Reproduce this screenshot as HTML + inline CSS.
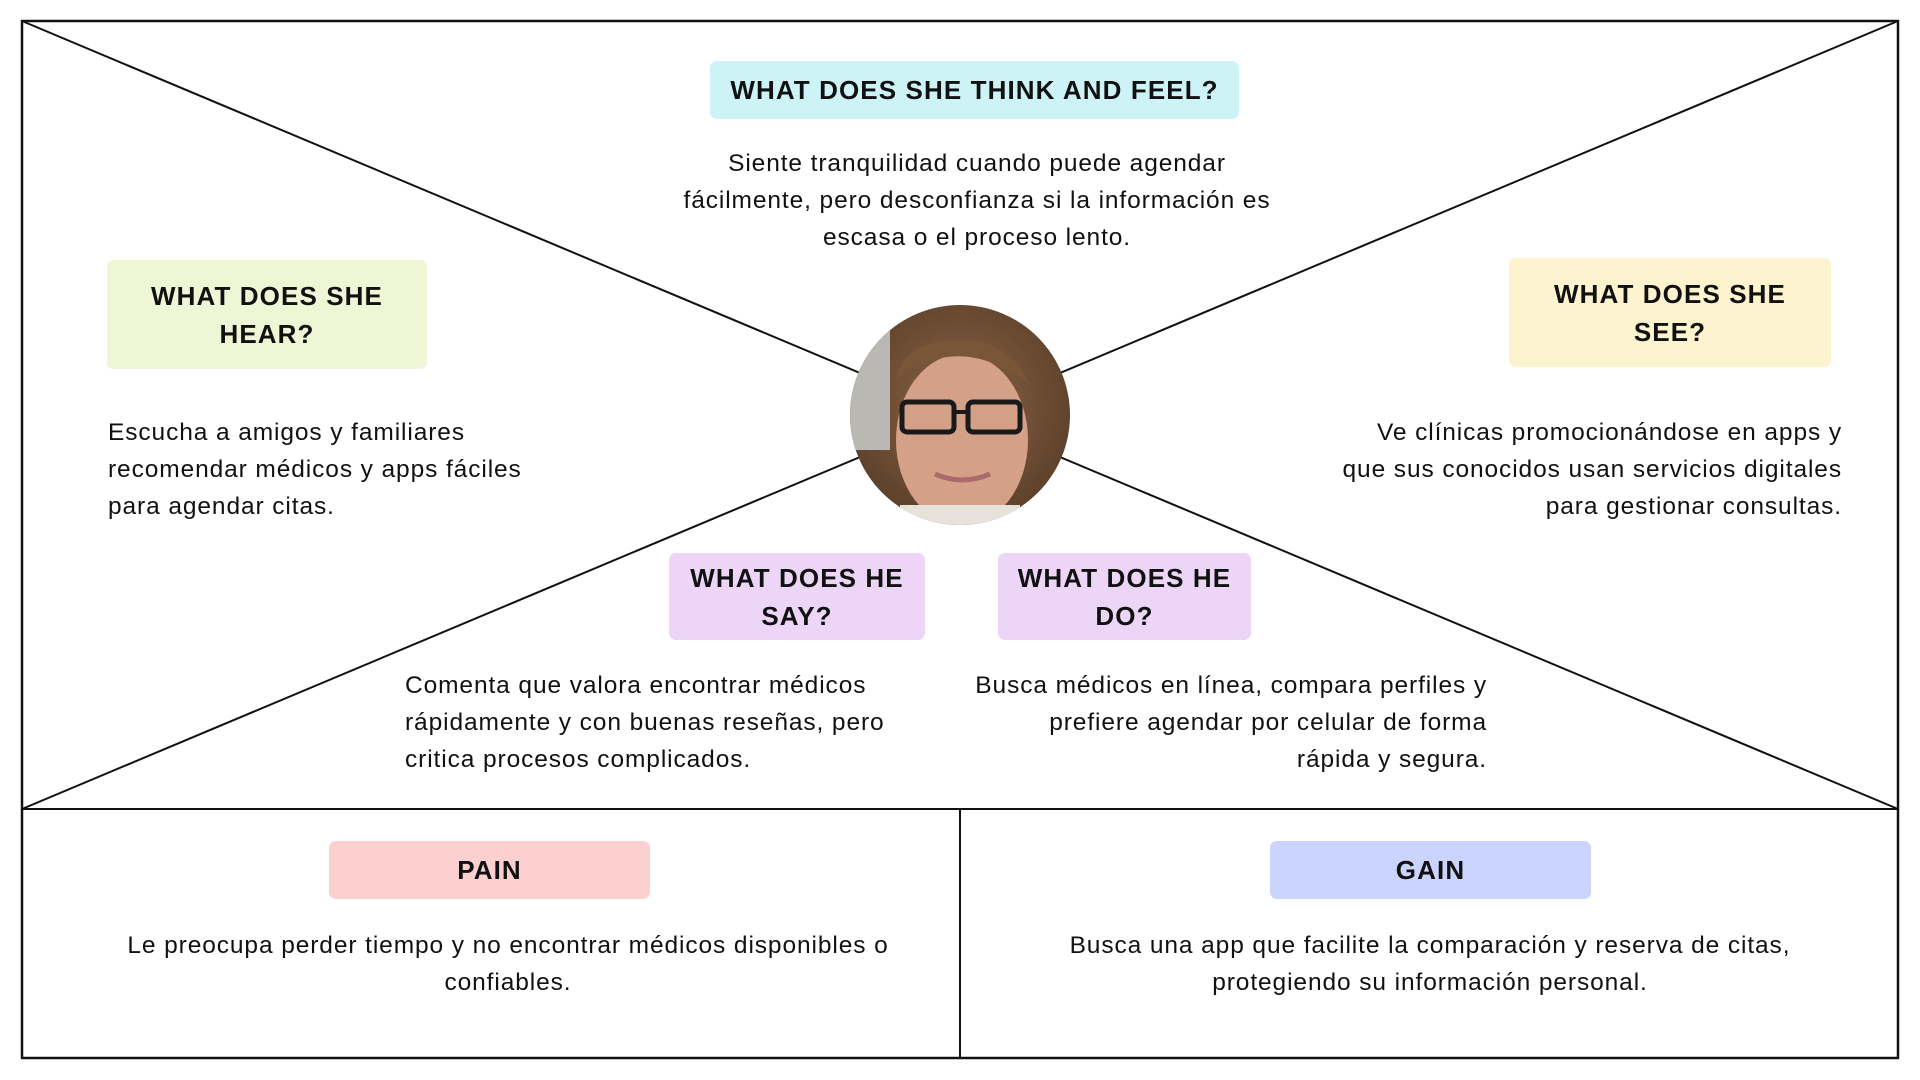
<!DOCTYPE html>
<html><head><meta charset="utf-8"><style>
body{margin:0;width:1920px;height:1080px;background:#fff;position:relative;overflow:hidden;font-family:"Liberation Sans",sans-serif;color:#111}
.b{position:absolute;border-radius:7px;display:flex;align-items:center;justify-content:center;text-align:center;font-size:26px;font-weight:bold;line-height:38px;color:#111;letter-spacing:1.1px}
.t{position:absolute;font-size:24.5px;line-height:37px;color:#111;white-space:nowrap;letter-spacing:0.9px}
</style></head><body>
<svg width="1920" height="1080" style="position:absolute;left:0;top:0">
<rect x="22" y="21" width="1876" height="1037" fill="none" stroke="#111" stroke-width="2.5"/>
<line x1="22" y1="809" x2="1898" y2="809" stroke="#111" stroke-width="2"/>
<line x1="960" y1="809" x2="960" y2="1058" stroke="#111" stroke-width="2"/>
<line x1="22" y1="21" x2="1898" y2="809" stroke="#111" stroke-width="2"/>
<line x1="1898" y1="21" x2="22" y2="809" stroke="#111" stroke-width="2"/>
<defs>
<clipPath id="c"><circle cx="960" cy="415" r="110"/></clipPath>
<radialGradient id="h" cx="0.5" cy="0.45" r="0.6"><stop offset="0" stop-color="#8a6446"/><stop offset="1" stop-color="#5a3e28"/></radialGradient>
</defs>
<g clip-path="url(#c)">
<rect x="850" y="305" width="220" height="220" fill="url(#h)"/>
<rect x="850" y="330" width="40" height="120" fill="#b9b8b2"/>
<ellipse cx="962" cy="440" rx="66" ry="86" fill="#d4a088"/>
<path d="M895 380 Q960 330 1030 385 Q1010 340 960 340 Q905 340 895 380Z" fill="#7a5638"/>
<rect x="902" y="402" width="52" height="30" rx="5" fill="none" stroke="#1a1a1a" stroke-width="5"/>
<rect x="968" y="402" width="52" height="30" rx="5" fill="none" stroke="#1a1a1a" stroke-width="5"/>
<line x1="954" y1="412" x2="968" y2="412" stroke="#1a1a1a" stroke-width="4"/>
<path d="M935 474 Q962 486 990 474" stroke="#a86a6a" stroke-width="5" fill="none"/>
<rect x="900" y="505" width="120" height="30" fill="#e8e2dc"/>
</g>
</svg>
<div class="b" style="left:710px;top:61px;width:529px;height:58px;background:#cdf3f7">WHAT DOES SHE THINK AND FEEL?</div>
<div class="b" style="left:107px;top:260px;width:320px;height:109px;background:#eef6d5">WHAT DOES SHE<br>HEAR?</div>
<div class="b" style="left:1509px;top:258px;width:322px;height:109px;background:#fdf3cf">WHAT DOES SHE<br>SEE?</div>
<div class="b" style="left:669px;top:553px;width:256px;height:87px;background:#ecd5f6">WHAT DOES HE<br>SAY?</div>
<div class="b" style="left:998px;top:553px;width:253px;height:87px;background:#ecd5f6">WHAT DOES HE<br>DO?</div>
<div class="b" style="left:329px;top:841px;width:321px;height:58px;background:#fdd0d0">PAIN</div>
<div class="b" style="left:1270px;top:841px;width:321px;height:58px;background:#cad4fd">GAIN</div>
<div class="t" style="left:577px;width:800px;top:145px;text-align:center">Siente tranquilidad cuando puede agendar<br>fácilmente, pero desconfianza si la información es<br>escasa o el proceso lento.</div>
<div class="t" style="left:108px;top:414px">Escucha a amigos y familiares<br>recomendar médicos y apps fáciles<br>para agendar citas.</div>
<div class="t" style="right:78px;top:414px;text-align:right">Ve clínicas promocionándose en apps y<br>que sus conocidos usan servicios digitales<br>para gestionar consultas.</div>
<div class="t" style="left:405px;top:667px">Comenta que valora encontrar médicos<br>rápidamente y con buenas reseñas, pero<br>critica procesos complicados.</div>
<div class="t" style="right:433px;top:667px;text-align:right">Busca médicos en línea, compara perfiles y<br>prefiere agendar por celular de forma<br>rápida y segura.</div>
<div class="t" style="left:8px;width:1000px;top:927px;text-align:center">Le preocupa perder tiempo y no encontrar médicos disponibles o<br>confiables.</div>
<div class="t" style="left:930px;width:1000px;top:927px;text-align:center">Busca una app que facilite la comparación y reserva de citas,<br>protegiendo su información personal.</div>
</body></html>
